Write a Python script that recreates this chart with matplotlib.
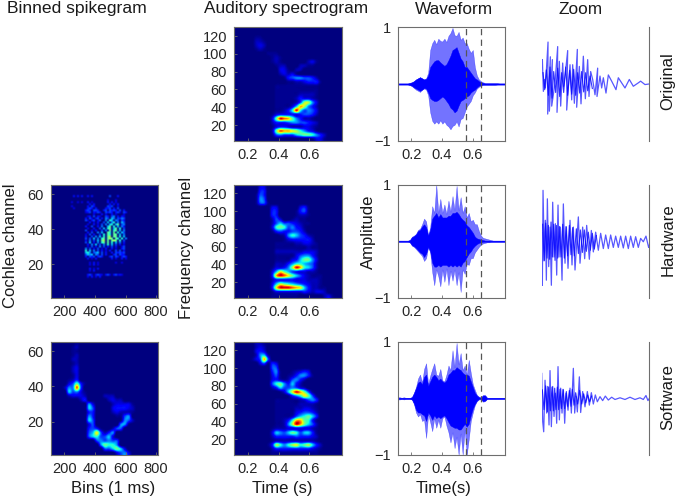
import numpy as np
import matplotlib
matplotlib.use("Agg")
import matplotlib.pyplot as plt
from matplotlib.colors import PowerNorm

plt.rcParams["font.family"] = ["Liberation Sans", "DejaVu Sans"]

W, H = 680, 501
GREY = "#6e6e6e"
TXT = "#262626"

# heat maps, one hex digit per cell (0 = background, f = hottest)
# rows run top to bottom, short rows are padded with zeros
SPEC_ORIGINAL = [
    "", "", "000001100", "0000022100", "00000232", "00000121",
    "0000000011100", "000000000121", "000000000121000000231",
    "00000000001220002211", "000000000003310220", "00000000000232310",
    "000000000000145665542", "0000000000000112234441",
    "000000000011111111111", "000000000011111111111", "000000000011111122221",
    "000000000011111243321", "00000000001111125aa63", "0000000000111137ca642",
    "000000000011248e85653", "000000000134444345542", "00000000039edc964221",
    "000000000244456655432", "000000000134432223321", "00000000029dccba86431",
    "00000000015655578998642", "00000000000000000001331",
]
SPEC_HARDWARE = [
    "00000033", "00000044", "00000154", "00000165", "000001551",
    "0000000003300000341", "000000000440000" + "1451", "000000000440000" + "1221",
    "000000000253001211", "0000000002575543211", "000000000389856431",
    "000000000145445542", "00000000000126875421", "00000000000013444442",
    "000000000011111223321", "000000000011111111211", "000000000022222223332",
    "000000000011111356642", "000000000011113479963", "000000000022246887652",
    "00000000013346aec8752", "00000000037b975433221",
    "0000000004cedb97532111", "0000000002444443332221",
    "00000000037a9876543221", "0000000004beeedcb742211",
    "00000000013333333432332", "0000000001111111000000231",
]
SPEC_SOFTWARE = [
    "00000221", "00000232", "00000343", "000002672", "0000135c5",
    "00000035143", "00000000055", "0000000004610012343",
    "00000000035101246641", "000000000342125642", "00000000058964742",
    "000000000247556532", "00000000000137bec951", "00000000000001468b951",
    "000000000011111123564", "000000000011111122221", "000000000011111223321",
    "000000000011111345542", "000000000011112578974", "000000000011248cc9841",
    "00000000001126aec9752", "000000000122233333321", "000000000376579857741",
    "000000000244444544432", "000000000122222222221",
    "0000000014a868ab89a742", "0000000002444444444321", "000000000111111111111",
]
SPIKES_SOFTWARE = [
    "0000001", "0000012", "0000011", "0000012", "0000022", "0000012", "0000023",
    "0000023", "0000013", "0000124", "000035941", "000266d5",
    "000075631", "0000233320000222", "000000024000002322",
    "000000000630000233331", "000000000750000344432", "000000000440000232221",
    "000000000640000011560", "000000000750000001652", "00000000035000000661",
    "00000000045410025500", "00000000057b52460", "000000000578557300",
    "00000000000565655", "000000000000698860", "0000000000000557973",
    "00000000000000003563",
]
SPIKES_HARDWARE = [
    "", "", "", "", "",
    "00000000000404040040400000000500040",
    "",
    "0000000000000000000000000000300030",
    "00000000003003030040300000004040300",
    "0000000000000000000404000000040404",
    "00000000003000000040540000005450030",
    "00000000000300000045404000044504050",
    "00000000000000000454055400450545405040",
    "00000000000000000345043540054540453054",
    "00000000000000000000030004030040300030",
    "00000000000000000034050430054056040430",
    "00000000000000000405304504065076054650",
    "00000000000000000530450350060870650540",
    "00000000000000000004030400507068060750",
    "00000000000000000030040305060780790560",
    "00000000000000000400500406007908070640",
    "00000000000000000030040050708907908050",
    "00000000000000000500304005060908907060",
    "00000000000000000040500607009809080750",
    "00000000000000000305040050809809907060",
    "00000000000000000400506070809a09908070",
    "00000000000000000505070608909a90980806",
    "00000000000000000406050709a0909a908050",
    "00000000000000000507040608909080706040",
    "00000000000000000040607050608070504030",
    "00000000000000000030504060504050400350",
    "00000000000000000605040503040040300450",
    "00000000000000000807060504030400505040",
    "00000000000000000786056705040040545450",
    "00000000000000000576706505040004505440",
    "00000000000000000405450454000450540454",
    "00000000000000000040304000000040300403",
    "",
    "0000000000000000000304030000000030030",
    "000000000000000000030403",
    "",
    "0000000000000000000403040",
    "00000000000000000003040",
    "",
    "000000000000000000453045430453045343",
    "0000000000000000003040304",
    "", "", "", "", "", "", "", "", "", "",
]

# waveform envelopes, 54 points across the panel: pale outer spikes, solid inner body
WAVE_ORIG_TOP = [.01, .01, .01, .01, .01, .01, .02, .03, .05, .08, .1, .12, .1, .08, .1, .2, .6, .72,
                 .78, .7, .8, .76, .75, .8, .74, .85, .9, .99, .86, .85, .92, .78, .82, .72, .72, .62,
                 .55, .6, .3, .15, .08, .05, .03, .02, .02, .02, .02, .02, .02, .02, .01, .01, .01, .01]
WAVE_ORIG_BOT = [-.01, -.01, -.01, -.01, -.01, -.01, -.02, -.04, -.07, -.1, -.12, -.14, -.1, -.08, -.1, -.2, -.5, -.65,
                 -.7, -.66, -.7, -.64, -.7, -.66, -.72, -.75, -.8, -.74, -.72, -.66, -.75, -.62, -.6, -.5, -.4, -.35,
                 -.3, -.2, -.15, -.08, -.05, -.03, -.02, -.02, -.02, -.02, -.02, -.02, -.02, -.01, -.01, -.01, -.01, -.01]
WAVE_ORIG_IN_TOP = [.01, .01, .01, .01, .01, .01, .02, .03, .05, .08, .1, .12, .1, .08, .09, .15, .3, .35,
                    .4, .42, .42, .38, .35, .32, .35, .42, .5, .6, .62, .65, .55, .45, .4, .3, .3, .25,
                    .2, .15, .1, .08, .05, .03, .02, .01, .01, .01, .01, .01, .01, .01, .01, .01, .01, .01]
WAVE_ORIG_IN_BOT = [-.01, -.01, -.01, -.01, -.01, -.01, -.02, -.03, -.06, -.08, -.1, -.12, -.1, -.07, -.08, -.15, -.25, -.28,
                    -.3, -.3, -.28, -.25, -.22, -.25, -.3, -.35, -.42, -.45, -.5, -.47, -.38, -.3, -.28, -.25, -.22, -.2,
                    -.15, -.12, -.1, -.06, -.03, -.02, -.01, -.01, -.01, -.01, -.01, -.01, -.01, -.01, -.01, -.01, -.01, -.01]

WAVE_HARD_TOP = [.01, .01, .01, .01, .01, .01, .02, .08, .1, .13, .2, .22, .3, .4, .35, .1, .25, .62,
                 .5, 1.0, .5, .75, .5, .65, .48, .72, .52, .8, .55, .98, .55, .78, .5, .62, .42, .5,
                 .35, .38, .3, .3, .18, .1, .06, .05, .04, .03, .02, .01, .01, .01, .01, .01, .01, .01]
WAVE_HARD_BOT = [-.01, -.01, -.01, -.01, -.01, -.01, -.02, -.08, -.1, -.14, -.18, -.22, -.26, -.35, -.3, -.1, -.2, -.55,
                 -.78, -.5, -.62, -.8, -.5, -.72, -.48, -.78, -.52, -.7, -.5, -.78, -.55, -.9, -.5, -.58, -.4, -.42,
                 -.3, -.3, -.2, -.15, -.1, -.06, -.04, -.03, -.02, -.02, -.01, -.01, -.01, -.01, -.01, -.01, -.01, -.01]
WAVE_HARD_IN_TOP = [.01, .01, .01, .01, .01, .01, .02, .07, .09, .12, .18, .2, .26, .3, .25, .1, .2, .4,
                    .45, .5, .42, .48, .42, .42, .42, .45, .45, .5, .5, .52, .48, .42, .38, .35, .28, .25,
                    .2, .15, .08, .05, .04, .03, .02, .01, .01, .01, .01, .01, .01, .01, .01, .01, .01, .01]
WAVE_HARD_IN_BOT = [-.01, -.01, -.01, -.01, -.01, -.01, -.02, -.07, -.09, -.12, -.16, -.2, -.22, -.28, -.22, -.1, -.18, -.38,
                    -.45, -.45, -.42, -.45, -.42, -.42, -.42, -.45, -.42, -.45, -.42, -.45, -.42, -.45, -.38, -.35, -.28, -.22,
                    -.18, -.12, -.08, -.05, -.03, -.02, -.01, -.01, -.01, -.01, -.01, -.01, -.01, -.01, -.01, -.01, -.01, -.01]

WAVE_SOFT_TOP = [.02, .02, .01, .02, .01, .01, .01, .02, .1, .2, .35, .42, .28, .52, .62, .25, .4, .52,
                 .62, .42, .4, .52, .32, .3, .42, .58, .5, .85, .55, .98, .6, .8, .5, .58, .42, .68,
                 .45, .25, .15, .06, .03, .02, .06, .06, .01, .01, .01, .01, .01, .01, .01, .01, .01, .01]
WAVE_SOFT_BOT = [-.02, -.02, -.01, -.02, -.01, -.01, -.01, -.02, -.1, -.25, -.32, -.28, -.4, -.38, -.7, -.28, -.42, -.58,
                 -.35, -.52, -.38, -.52, -.35, -.32, -.48, -.6, -.78, -.6, -.88, -.68, -1.0, -.62, -1.0, -.55, -1.0, -.72,
                 -.4, -.25, -.12, -.05, -.02, -.02, -.06, -.05, -.01, -.01, -.01, -.01, -.01, -.01, -.01, -.01, -.01, -.01]
WAVE_SOFT_IN_TOP = [.01, .01, .01, .01, .01, .01, .01, .02, .09, .18, .28, .3, .25, .38, .42, .22, .3, .38,
                    .42, .38, .32, .35, .3, .28, .32, .42, .45, .5, .5, .55, .52, .5, .45, .42, .42, .4,
                    .3, .2, .1, .05, .02, .01, .05, .05, .01, .01, .01, .01, .01, .01, .01, .01, .01, .01]
WAVE_SOFT_IN_BOT = [-.01, -.01, -.01, -.01, -.01, -.01, -.01, -.02, -.09, -.2, -.25, -.25, -.28, -.3, -.4, -.25, -.3, -.38,
                    -.3, -.35, -.32, -.35, -.32, -.3, -.35, -.42, -.48, -.5, -.52, -.52, -.55, -.55, -.5, -.45, -.5, -.45,
                    -.3, -.18, -.1, -.04, -.01, -.01, -.05, -.04, -.01, -.01, -.01, -.01, -.01, -.01, -.01, -.01, -.01, -.01]

# zoomed part of each waveform, traced peak by peak
ZOOM_ORIG_T = [2, 5, 8, 11, 19, 18, 26, 23, 32, 30, 40, 48, 46, 53, 57, 63, 66, 71, 78, 75, 85, 90, 93, 98, 107, 105,
               113, 118, 125, 131, 138, 142, 147, 153, 160, 168, 166, 175, 180, 185, 193, 200, 210, 223, 230, 240,
               250, 263, 275, 290, 297, 310, 322]
ZOOM_ORIG_A = [.43, -.13, .08, -.07, .74, -.53, .48, -.48, .43, -.39, .02, .66, -.50, .40, -.39, .37, -.04, .19, .59,
               -.46, .34, -.28, .34, -.34, .61, -.41, .31, -.35, .49, -.26, .43, -.22, .22, .08, -.19, .28, -.22, .14,
               -.07, .11, -.16, .16, .05, -.10, .11, .02, -.07, .08, -.04, .02, .05, -.01, 0]
ZOOM_HARD_T = [0, 2, 4, 8, 11, 14, 17, 21, 25, 29, 33, 37, 41, 45, 49, 52, 56, 61, 65, 70, 74, 79, 85, 91, 95, 100, 110,
               115, 123, 129, 135, 143, 149, 155, 162, 170, 177, 185, 192, 200, 207, 215, 222, 230, 237, 245, 252, 260,
               267, 275, 282, 290, 297, 305, 313, 321, 323]
ZOOM_HARD_A = [.14, -.78, .90, -.34, .37, -.69, .75, -.45, .25, -.78, .69, -.28, .31, -.60, .64, -.28, .25, -.69, .66,
               -.39, .25, -.48, .37, -.42, .25, -.51, .43, -.39, .25, -.31, .28, -.32, .19, -.19, .16, -.16, .14, -.13,
               .11, -.13, .11, -.11, .09, -.11, .09, -.12, .09, -.13, .09, -.11, .08, -.11, .05, -.01, .09, -.11, -.07]
ZOOM_SOFT_T = [0, 3, 6, 10, 15, 18, 22, 25, 29, 33, 37, 41, 45, 49, 53, 57, 61, 65, 69, 73, 79, 85, 89, 95, 99, 103, 107,
               113, 117, 123, 130, 137, 143, 149, 155, 161, 167, 175, 183, 191, 200, 210, 220, 235, 250, 265, 280, 295,
               305, 313, 319, 323]
ZOOM_SOFT_A = [.44, -.41, -.59, .32, -.26, .21, -.47, .49, -.50, .21, -.32, .09, -.44, .56, -.38, .18, -.26, .15, -.44,
               .09, -.21, .18, -.26, .53, -.26, .03, -.24, .38, -.25, .12, -.15, .12, -.12, .10, -.10, .06, -.06, .03,
               -.04, .04, -.03, .02, -.02, .01, -.02, .02, -.02, .01, -.02, .05, -.04, 0]

# denser ripple inside the big swings of the zoom traces
RIPPLE_ORIG_T = [4, 9, 14, 20, 25, 31, 36, 42, 48, 54, 60, 66, 72, 78, 84, 90, 96, 102, 108, 114, 120, 126, 132, 138, 145, 152]
RIPPLE_ORIG_A = [.2, -.1, .25, -.2, .3, -.25, .22, -.15, .28, -.22, .2, -.15, .3, -.2, .24, -.18, .26, -.2, .2, -.16, .22, -.14, .2, -.12, .14, -.08]
RIPPLE_HARD_T = [3, 7, 12, 16, 20, 24, 28, 32, 36, 40, 44, 48, 53, 58, 63, 68, 73, 78, 83, 88, 93, 98, 104, 110, 116, 122, 128, 134, 140, 146, 152, 158, 164]
RIPPLE_HARD_A = [.3, -.35, .32, -.3, .28, -.32, .34, -.28, .3, -.34, .28, -.3, .26, -.28, .3, -.3, .26, -.26, .28, -.24, .24, -.26, .22, -.22, .2, -.2, .2, -.18, .16, -.16, .14, -.14, .1]
RIPPLE_SOFT_T = [2, 7, 12, 17, 21, 26, 31, 35, 39, 43, 47, 51, 55, 59, 64, 69, 74, 78, 83, 88, 92, 97, 102, 108, 114, 120, 126, 132, 138, 144, 150]
RIPPLE_SOFT_A = [.15, -.2, .22, -.24, .2, -.22, .2, -.22, .18, -.2, .2, -.2, .16, -.18, .16, -.18, .12, -.14, .14, -.14, .16, -.12, .1, -.1, .14, -.1, .08, -.08, .06, -.06, .04]

DASH_TIMES = [0.555, 0.655]
TIME_TICKS = [0.2, 0.4, 0.6]
BIN_TICKS = [200, 400, 600, 800]
CHAN_TICKS = [20, 40, 60]
FREQ_TICKS = [20, 40, 60, 80, 100, 120]


def grid(rows, ncols):
    return np.array([[int(c, 16) for c in r.ljust(ncols, "0")[:ncols]] for r in rows], dtype=float)


def panel(fig, x0, y0, x1, y1):
    # pixel box from the top left corner
    ax = fig.add_axes([x0 / W, 1 - y1 / H, (x1 - x0) / W, (y1 - y0) / H])
    for s in ax.spines.values():
        s.set_color(GREY)
        s.set_linewidth(0.8)
    ax.tick_params(direction="in", length=2.5, width=0.6, color=GREY, labelsize=10.5,
                   labelcolor=TXT, pad=5)
    return ax


def heat(ax, rows, ncols, xlim, ylim, xticks, yticks, interp="catrom"):
    # colour scale bent so that only the ridge tops reach green and red
    ax.imshow(grid(rows, ncols), cmap="jet", norm=PowerNorm(1.5, vmin=0, vmax=15), aspect="auto",
              interpolation=interp, extent=[xlim[0], xlim[1], ylim[0], ylim[1]], origin="upper")
    ax.set_xticks(xticks)
    ax.set_yticks(yticks)


def wave(ax, top, bot, in_top, in_bot):
    t = np.linspace(0.111, 0.814, len(top))
    ax.fill_between(t, bot, top, color="#0000ff", alpha=0.55, lw=0.3)
    ax.fill_between(t, in_bot, in_top, color="#0000ff", lw=0.3)
    for d in DASH_TIMES:
        ax.axvline(d, color="#555555", lw=0.9, ls=(0, (5, 3.5)), zorder=3)
    ax.set_xlim(0.111, 0.814)
    ax.set_ylim(-1, 1)
    ax.set_xticks(TIME_TICKS)
    ax.set_yticks([-1, 1])
    ax.set_yticklabels(["\u22121", "1"])


def zoom(ax, t, a, rt, ra):
    ax.plot(t, a, color="#1010ff", lw=0.9, alpha=0.7)
    ax.plot(rt, ra, color="#0000ff", lw=0.8, alpha=0.8)
    ax.set_xlim(0, 323)
    ax.set_ylim(-1, 1)
    ax.set_xticks([])
    ax.set_yticks([])
    for name in ["top", "left", "bottom"]:
        ax.spines[name].set_visible(False)


fig = plt.figure(figsize=(W / 100, H / 100), dpi=100)

ROWS = [(27.3, 140.7), (184.7, 297.7), (341.7, 455)]
SPIKE_X = (50.7, 158)
SPEC_X = (234, 342.3)
WAVE_X = (397.7, 505.3)
ZOOM_X = (541.7, 649.3)
BIN_LIM = (112, 812)
CHAN_LIM = (1, 65.3)
TIME_LIM = (0.111, 0.814)
FREQ_LIM = (2.4, 129.8)

ax = panel(fig, SPIKE_X[0], ROWS[1][0], SPIKE_X[1], ROWS[1][1])
heat(ax, SPIKES_HARDWARE, 54, BIN_LIM, CHAN_LIM, BIN_TICKS, CHAN_TICKS, "bilinear")
ax = panel(fig, SPIKE_X[0], ROWS[2][0], SPIKE_X[1], ROWS[2][1])
heat(ax, SPIKES_SOFTWARE, 27, BIN_LIM, CHAN_LIM, BIN_TICKS, CHAN_TICKS)

for (y0, y1), spec in zip(ROWS, [SPEC_ORIGINAL, SPEC_HARDWARE, SPEC_SOFTWARE]):
    ax = panel(fig, SPEC_X[0], y0, SPEC_X[1], y1)
    heat(ax, spec, 27, TIME_LIM, FREQ_LIM, TIME_TICKS, FREQ_TICKS)

waves = [(WAVE_ORIG_TOP, WAVE_ORIG_BOT, WAVE_ORIG_IN_TOP, WAVE_ORIG_IN_BOT),
         (WAVE_HARD_TOP, WAVE_HARD_BOT, WAVE_HARD_IN_TOP, WAVE_HARD_IN_BOT),
         (WAVE_SOFT_TOP, WAVE_SOFT_BOT, WAVE_SOFT_IN_TOP, WAVE_SOFT_IN_BOT)]
for (y0, y1), w in zip(ROWS, waves):
    ax = panel(fig, WAVE_X[0], y0, WAVE_X[1], y1)
    wave(ax, *w)

zooms = [(ZOOM_ORIG_T, ZOOM_ORIG_A, RIPPLE_ORIG_T, RIPPLE_ORIG_A),
         (ZOOM_HARD_T, ZOOM_HARD_A, RIPPLE_HARD_T, RIPPLE_HARD_A),
         (ZOOM_SOFT_T, ZOOM_SOFT_A, RIPPLE_SOFT_T, RIPPLE_SOFT_A)]
for (y0, y1), z in zip(ROWS, zooms):
    ax = panel(fig, ZOOM_X[0], y0, ZOOM_X[1], y1)
    zoom(ax, *z)


def label(x, y, s, rot=0, size=12):
    fig.text(x / W, 1 - y / H, s, ha="center", va="center", rotation=rot, fontsize=size, color="#1a1a1a")


label(77, 9, "Binned spikegram", size=12.6)
label(286, 9, "Auditory spectrogram", size=12.4)
label(454, 9, "Waveform", size=12.4)
label(581, 9, "Zoom", size=12.4)
label(668, 81, "Original", 90)
label(668, 240, "Hardware", 90)
label(668, 397, "Software", 90)
label(11, 246, "Cochlea channel", 90)
label(186, 248, "Frequency channel", 90)
label(368, 232, "Amplitude", 90)
label(113, 488, "Bins (1 ms)")
label(282, 488, "Time (s)")
label(444, 488, "Time(s)")

fig.savefig("out.png", dpi=100)
